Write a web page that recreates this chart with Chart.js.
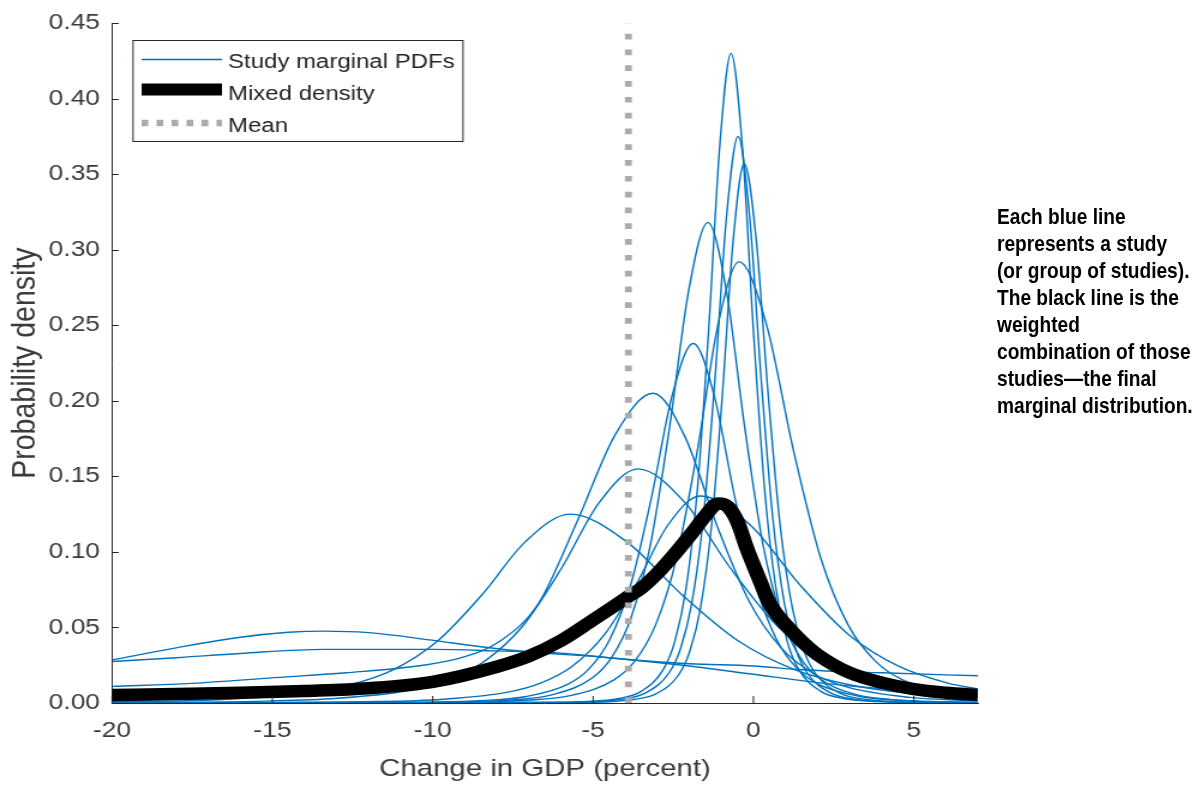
<!DOCTYPE html>
<html>
<head>
<meta charset="utf-8">
<script src="https://cdn.jsdelivr.net/npm/chart.js@4.4.1/dist/chart.umd.min.js"></script>
<style>
  html, body { margin: 0; padding: 0; background: #fff; width: 1201px; height: 785px; overflow: hidden; }
  #wrap { position: absolute; left: 0; top: 0; width: 1001px; height: 785px;
          transform: scaleX(1.1998); transform-origin: 0 0; }
  #note { position: absolute; left: 997px; top: 203px; color: #000;
          font-family: "Liberation Sans", Arial, sans-serif;
          font-weight: bold; font-size: 22px; line-height: 27px; white-space: nowrap;
          transform: scaleX(0.87); transform-origin: 0 0; }
</style>
</head>
<body>
<div id="wrap"><canvas id="c" width="1001" height="785"></canvas></div>
<div id="note">Each blue line<br>represents a study<br>(or group of studies).<br>The black line is the<br>weighted<br>combination of those<br>studies—the final<br>marginal distribution.</div>
<script>
// Axis ticks
const xTicks = [-20, -15, -10, -5, 0, 5];
const yTicks = [0, 0.05, 0.10, 0.15, 0.20, 0.25, 0.30, 0.35, 0.40, 0.45];

// Mean of the mixed density (percent change in GDP)
const meanChange = -3.9;
const meanSpan = [0, 0.45];

// Study marginal PDFs: change in GDP (x) and probability density (y)
const studyA_x = [-20, -6.3, -4.2, -3.5, -2.8, -2.45, -2.1, -1.75, -1.4, -1.05, -0.7, -0.35, 0, 0.35, 0.7, 1.05, 1.4, 2.1, 2.8, 4.9, 7];
const studyA_y = [0.0001, 0.0004, 0.003, 0.0077, 0.0226, 0.041, 0.076, 0.141, 0.246, 0.369, 0.430, 0.369, 0.246, 0.141, 0.076, 0.041, 0.0226, 0.0077, 0.003, 0.0004, 0.0001];

const studyB_x = [-20, -6.24, -4.08, -3.36, -2.64, -2.28, -1.92, -1.56, -1.2, -0.84, -0.48, -0.12, 0.24, 0.6, 0.96, 1.32, 1.68, 2.4, 3.12, 5.28, 7];
const studyB_y = [0.0001, 0.0003, 0.0026, 0.0067, 0.0197, 0.0356, 0.0664, 0.123, 0.2145, 0.322, 0.375, 0.322, 0.2145, 0.123, 0.0664, 0.0356, 0.0197, 0.0067, 0.0026, 0.0003, 0.0001];

const studyC_x = [-20, -5.73, -3.69, -3.01, -2.33, -1.99, -1.65, -1.31, -0.97, -0.63, -0.29, 0.085, 0.46, 0.835, 1.21, 1.585, 1.96, 2.71, 3.46, 5.71, 7];
const studyC_y = [0.0001, 0.0003, 0.0025, 0.0064, 0.0187, 0.0339, 0.0632, 0.117, 0.204, 0.307, 0.357, 0.307, 0.204, 0.117, 0.0632, 0.0339, 0.0187, 0.0064, 0.0025, 0.0003, 0.0002];

const studyD_x = [-20, -10.85, -6.95, -5.65, -4.35, -3.7, -3.05, -2.4, -1.75, -1.1, -0.45, 0.4, 1.25, 2.1, 2.95, 3.8, 4.65, 6.35, 7];
const studyD_y = [0.0001, 0.00025, 0.002, 0.0052, 0.0153, 0.0277, 0.0517, 0.0958, 0.167, 0.251, 0.292, 0.251, 0.167, 0.0958, 0.0517, 0.0277, 0.0153, 0.0052, 0.0038];

const studyE_x = [-20, -11.02, -7.42, -6.22, -5.02, -4.42, -3.82, -3.22, -2.62, -2.02, -1.42, -0.845, -0.27, 0.305, 0.88, 1.455, 2.03, 3.18, 4.33, 7];
const studyE_y = [0.0001, 0.0003, 0.0022, 0.0057, 0.0167, 0.0302, 0.0563, 0.104, 0.182, 0.273, 0.318, 0.273, 0.182, 0.104, 0.0563, 0.0302, 0.0167, 0.0057, 0.0022, 0.0004];

const studyF_x = [-20, -12.28, -8.38, -7.08, -5.78, -5.13, -4.48, -3.83, -3.18, -2.53, -1.88, -1.23, -0.58, 0.07, 0.72, 1.37, 2.02, 3.32, 4.62, 7];
const studyF_y = [0.0001, 0.0002, 0.0017, 0.0043, 0.0125, 0.0226, 0.0421, 0.0781, 0.136, 0.204, 0.238, 0.204, 0.136, 0.0781, 0.0421, 0.0226, 0.0125, 0.0043, 0.0017, 0.0004];

const studyG_x = [-20, -17.5, -15.1, -12.7, -10.3, -9.1, -7.9, -6.7, -5.5, -4.3, -3.13, -2.13, -1.13, -0.13, 0.87, 1.87, 2.87, 4.87, 7];
const studyG_y = [0.011, 0.013, 0.0165, 0.020, 0.025, 0.030, 0.041, 0.066, 0.120, 0.178, 0.205, 0.176, 0.117, 0.0672, 0.0363, 0.0195, 0.0108, 0.0037, 0.0014];

const studyH_x = [-20, -15.6, -13.2, -10.8, -9.6, -8.4, -7.2, -6.0, -4.8, -3.6, -2.15, -0.7, 0.75, 2.2, 3.65, 5.1, 7];
const studyH_y = [0.0002, 0.0011, 0.0028, 0.0081, 0.0147, 0.0274, 0.0508, 0.0887, 0.133, 0.155, 0.133, 0.0887, 0.0508, 0.0274, 0.0147, 0.0081, 0.0042];

const studyI_x = [-20, -11.66, -9.66, -7.66, -6.66, -5.66, -4.66, -3.66, -2.66, -1.66, -0.11, 1.44, 2.99, 4.54, 6.09, 7];
const studyI_y = [0.0001, 0.001, 0.0025, 0.0072, 0.013, 0.0242, 0.0449, 0.0784, 0.118, 0.137, 0.118, 0.0784, 0.0449, 0.0242, 0.013, 0.0093];

const studyJ_x = [-20, -16.72, -13.97, -12.6, -11.22, -9.85, -8.47, -7.1, -5.72, -3.97, -2.22, -0.47, 1.28, 3.03, 4.78, 7];
const studyJ_y = [0.0008, 0.0022, 0.0066, 0.0119, 0.0221, 0.041, 0.0715, 0.107, 0.125, 0.107, 0.0715, 0.041, 0.0221, 0.0119, 0.0066, 0.0034];

const studyK_x = [-20, -18, -16, -14.5, -13.4, -12, -10.1, -8.5, -7, -4.5, -2, 0, 2, 4, 7];
const studyK_y = [0.0285, 0.0365, 0.0435, 0.0468, 0.0476, 0.0466, 0.0418, 0.0372, 0.0338, 0.030, 0.0245, 0.019, 0.0135, 0.0095, 0.006];

const studyL_x = [-20, -18, -16, -13.4, -10, -8, -6, -4, -2, 0, 1.5, 4, 7];
const studyL_y = [0.0275, 0.030, 0.0328, 0.0355, 0.0355, 0.0345, 0.033, 0.029, 0.026, 0.0245, 0.022, 0.020, 0.018];

// Mixed (weighted) density
const mixedX = [-20, -18, -16, -14, -12, -10, -8, -7, -6, -5, -4.5, -3.9, -3.5, -2.9, -2.4, -1.9, -1.5, -1.1, -0.8, -0.5, -0.2, 0.2, 0.5, 1.0, 1.5, 2.0, 3.0, 4.0, 5.0, 6.0, 7];
const mixedY = [0.0053, 0.006, 0.0068, 0.008, 0.0098, 0.014, 0.024, 0.031, 0.0413, 0.055, 0.062, 0.0705, 0.076, 0.088, 0.100, 0.113, 0.124, 0.132, 0.130, 0.120, 0.102, 0.081, 0.066, 0.052, 0.041, 0.032, 0.020, 0.0135, 0.0092, 0.0068, 0.0053];

const studies = [
  [studyA_x, studyA_y], [studyB_x, studyB_y], [studyC_x, studyC_y], [studyD_x, studyD_y],
  [studyE_x, studyE_y], [studyF_x, studyF_y], [studyG_x, studyG_y], [studyH_x, studyH_y],
  [studyI_x, studyI_y], [studyJ_x, studyJ_y], [studyK_x, studyK_y], [studyL_x, studyL_y]
];

const BLUE = '#0072BD';
const AXIS = '#262626';
const TEXT = '#3a3a3a';
const MEAN_GRAY = '#ABABAB';
const FONT = '"Liberation Sans", Arial, Helvetica, sans-serif';

const toPts = (xs, ys) => xs.map((x, i) => ({ x: x, y: ys[i] }));

const datasets = [
  { label: 'Mean', data: toPts([meanChange, meanChange], meanSpan),
    borderColor: MEAN_GRAY, borderWidth: 5.8, borderDash: [5.7, 10.1], order: 0 },
  { label: 'Mixed density', data: toPts(mixedX, mixedY),
    borderColor: '#000000', borderWidth: 12.5, cubicInterpolationMode: 'monotone', order: 1 }
].concat(studies.map(s => ({
  label: 'Study marginal PDFs', data: toPts(s[0], s[1]),
  borderColor: BLUE, borderWidth: 1.4, cubicInterpolationMode: 'monotone', order: 2
})));

// Chart area edges on the canvas
const AREA_LEFT = 93.35, AREA_RIGHT = 815.1, AREA_TOP = 22, AREA_BOTTOM = 703;

// Tick marks pointing into the plot
const inwardTicks = {
  id: 'inwardTicks',
  afterDatasetsDraw(chart) {
    const { ctx, chartArea: a, scales: { x, y } } = chart;
    ctx.save();
    ctx.strokeStyle = AXIS;
    ctx.lineWidth = 1;
    ctx.beginPath();
    x.ticks.forEach(t => {
      const px = x.getPixelForValue(t.value);
      ctx.moveTo(px, a.bottom);
      ctx.lineTo(px, a.bottom - 7);
    });
    y.ticks.forEach(t => {
      const py = Math.round(y.getPixelForValue(t.value)) + 0.5;
      ctx.moveTo(a.left, py);
      ctx.lineTo(a.left + 5.6, py);
    });
    ctx.stroke();
    ctx.restore();
  }
};

// Boxed legend in the upper left of the plot
const boxLegend = {
  id: 'boxLegend',
  afterDraw(chart) {
    const ctx = chart.ctx;
    const L = 110.85, T = 40.5, R = 385.9, B = 141.5;
    const x0 = 118, x1 = 185, tx = 190;
    ctx.save();
    ctx.fillStyle = '#ffffff';
    ctx.fillRect(L, T, R - L, B - T);
    ctx.strokeStyle = AXIS;
    ctx.lineWidth = 1;
    ctx.strokeRect(L, T, R - L, B - T);

    ctx.strokeStyle = BLUE; ctx.lineWidth = 1.5;
    ctx.beginPath(); ctx.moveTo(x0, 59.5); ctx.lineTo(x1, 59.5); ctx.stroke();

    ctx.strokeStyle = '#000000'; ctx.lineWidth = 12;
    ctx.beginPath(); ctx.moveTo(x0, 89.5); ctx.lineTo(x1, 89.5); ctx.stroke();

    ctx.strokeStyle = MEAN_GRAY; ctx.lineWidth = 6.7; ctx.setLineDash([5.6, 6.9]);
    ctx.beginPath(); ctx.moveTo(x0, 123); ctx.lineTo(x1, 123); ctx.stroke();
    ctx.setLineDash([]);

    ctx.fillStyle = AXIS;
    ctx.font = '20px ' + FONT;
    ctx.textBaseline = 'alphabetic';
    ctx.textAlign = 'left';
    ctx.fillText('Study marginal PDFs', tx, 68);
    ctx.fillText('Mixed density', tx, 99.5);
    ctx.fillText('Mean', tx, 132);
    ctx.restore();
  }
};

new Chart(document.getElementById('c'), {
  type: 'line',
  data: { datasets: datasets },
  plugins: [inwardTicks, boxLegend],
  options: {
    responsive: false,
    animation: false,
    events: [],
    parsing: true,
    elements: { point: { radius: 0 }, line: { tension: 0, borderCapStyle: 'butt' } },
    layout: { padding: { left: 0, right: 1001 - AREA_RIGHT, top: AREA_TOP, bottom: 0 } },
    plugins: { legend: { display: false }, tooltip: { enabled: false } },
    scales: {
      x: {
        type: 'linear', min: -20, max: 7,
        afterBuildTicks: s => { s.ticks = xTicks.map(v => ({ value: v })); },
        afterFit: s => { s.height = 785 - AREA_BOTTOM; },
        grid: { display: false, drawTicks: false },
        border: { display: true, color: AXIS, width: 1 },
        ticks: { padding: 15, color: TEXT, font: { family: FONT, size: 22 }, maxRotation: 0,
                 callback: v => String(v) },
        title: { display: true, text: 'Change in GDP (percent)', color: TEXT,
                 font: { family: FONT, size: 24.5 }, padding: { top: 0, bottom: 1 } }
      },
      y: {
        type: 'linear', min: 0, max: 0.45,
        afterBuildTicks: s => { s.ticks = yTicks.map(v => ({ value: v })); },
        afterFit: s => { s.width = AREA_LEFT; },
        grid: { display: false, drawTicks: false },
        border: { display: true, color: AXIS, width: 1 },
        ticks: { padding: 10, color: TEXT, font: { family: FONT, size: 22 },
                 callback: v => Number(v).toFixed(2) },
        title: { display: true, text: 'Probability density', color: TEXT,
                 font: { family: FONT, size: 28.5 }, padding: { top: 4.5, bottom: 0 } }
      }
    }
  }
});
</script>
</body>
</html>
